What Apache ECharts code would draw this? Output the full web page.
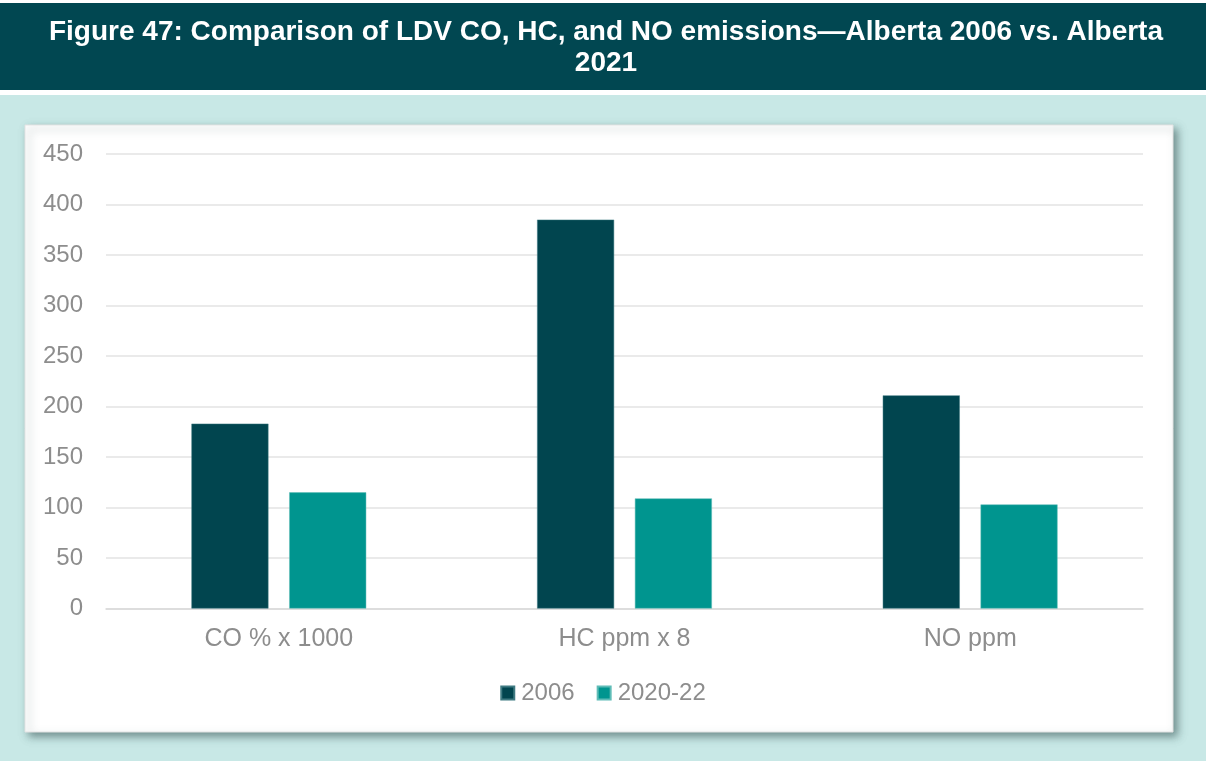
<!DOCTYPE html>
<html>
<head>
<meta charset="utf-8">
<script src="https://cdn.jsdelivr.net/npm/echarts@6/dist/echarts.min.js"></script>
<style>
  html, body { margin: 0; padding: 0; background: #ffffff; }
  #chart { width: 1206px; height: 761px; }
</style>
</head>
<body>
<div id="chart"></div>
<script>
// Emission measures compared across the two survey periods
const categories = ['CO % x 1000', 'HC ppm x 8', 'NO ppm'];
const seriesNames = ['2006', '2020-22'];
const values2006 = [183, 385, 211];
const values2020 = [115, 109, 103];
const yTicks = { min: 0, max: 450, interval: 50 };

const DARK = '#01454f';
const TEAL = '#00958f';
const LABEL = '#8d8d8d';
const FONT = 'Liberation Sans, Arial, sans-serif';

const chart = echarts.init(document.getElementById('chart'), null, { renderer: 'canvas' });

chart.setOption({
  animation: false,
  backgroundColor: '#ffffff',
  graphic: [
    // title banner
    { type: 'rect', z: -10, shape: { x: 0, y: 3, width: 1206, height: 87 }, style: { fill: '#014751' } },
    {
      type: 'text', z: 10, x: 606, y: 48,
      style: {
        text: 'Figure 47: Comparison of LDV CO, HC, and NO emissions\u2014Alberta 2006 vs. Alberta\n2021',
        fill: '#ffffff', font: 'bold 28px ' + FONT, lineHeight: 31,
        align: 'center', verticalAlign: 'middle'
      }
    },
    // light teal backdrop
    { type: 'rect', z: -10, shape: { x: 0, y: 95, width: 1206, height: 666 }, style: { fill: '#c8e8e6' } },
    // white chart panel with drop shadow
    {
      type: 'rect', z: -5,
      shape: { x: 25, y: 125, width: 1148, height: 607 },
      style: {
        fill: '#ffffff', stroke: '#e3e3e3', lineWidth: 1,
        shadowBlur: 8, shadowOffsetX: 4, shadowOffsetY: 4, shadowColor: 'rgba(40,70,70,0.55)'
      }
    }
  ],
  legend: {
    data: seriesNames,
    left: 'center',
    top: 676,
    icon: 'rect',
    itemWidth: 13,
    itemHeight: 13,
    itemGap: 22,
    textStyle: { color: LABEL, fontSize: 24, fontFamily: FONT, padding: [0, 0, 0, 2] }
  },
  grid: { left: 106, right: 63, top: 154, bottom: 152.5, containLabel: false },
  xAxis: {
    type: 'category',
    data: categories,
    axisLine: { show: true, lineStyle: { color: '#d9d9d9', width: 1.5 } },
    axisTick: { show: false },
    axisLabel: { color: LABEL, fontSize: 25, margin: 18, fontFamily: FONT }
  },
  yAxis: {
    type: 'value',
    min: yTicks.min, max: yTicks.max, interval: yTicks.interval,
    axisLine: { show: false },
    axisTick: { show: false },
    axisLabel: { color: LABEL, fontSize: 24, margin: 23, fontFamily: FONT },
    splitLine: { lineStyle: { color: '#e3e3e3', width: 1.5 } }
  },
  series: [
    {
      name: seriesNames[0], type: 'bar', data: values2006,
      barWidth: 77, barGap: '27%',
      itemStyle: { color: DARK, borderColor: '#3f7a82', borderWidth: 0.5 }
    },
    {
      name: seriesNames[1], type: 'bar', data: values2020,
      barWidth: 77,
      itemStyle: { color: TEAL, borderColor: '#5fbcb7', borderWidth: 0.5 }
    }
  ]
});
</script>
</body>
</html>
